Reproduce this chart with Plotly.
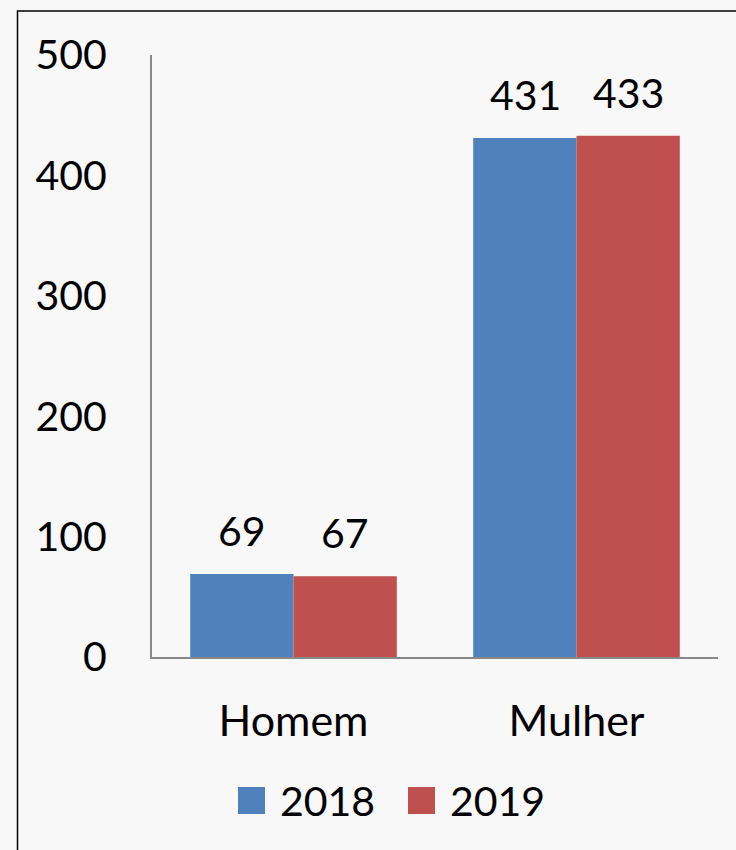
import plotly.graph_objects as go

# Dados
categorias = ["Homem", "Mulher"]
anos = ["2018", "2019"]
valores_2018 = [69, 431]
valores_2019 = [67, 433]
cores = ["#4F81BD", "#C0504D"]
y_ticks = [0, 100, 200, 300, 400, 500]

series = [valores_2018, valores_2019]
fonte = "Lato, Calibri, Carlito, sans-serif"

fig = go.Figure()
for ano, vals, cor in zip(anos, series, cores):
    fig.add_trace(go.Bar(x=categorias, y=vals, name=ano, marker=dict(color=cor, line=dict(width=0)),
                         showlegend=False))

# Rótulos de dados acima das barras
anotacoes = []
for i, vals in enumerate(series):
    for cat, v in zip(categorias, vals):
        anotacoes.append(dict(x=cat, y=v, text=str(v), showarrow=False, xref="x", yref="y",
                              xshift=(-51.5 if i == 0 else 51.5), yshift=17, yanchor="bottom",
                              font=dict(family=fonte, size=41, color="black")))

# Legenda manual (quadrados grandes)
L, W, T, H = 152, 566, 55, 602
def px(x):
    return (x - L) / W
def py(y):
    return (T + H - y) / H

formas = []
leg_x = [238, 408]
for ano, cor, x0 in zip(anos, cores, leg_x):
    formas.append(dict(type="rect", xref="paper", yref="paper", x0=px(x0), x1=px(x0 + 27),
                       y0=py(814), y1=py(787), fillcolor=cor, line=dict(width=0)))
    anotacoes.append(dict(x=px(x0 + 40), y=py(800), xref="paper", yref="paper", text=ano,
                          showarrow=False, xanchor="left", yanchor="middle",
                          font=dict(family=fonte, size=41, color="black")))

# Borda do gráfico
formas.append(dict(type="rect", xref="paper", yref="paper", x0=px(17.5), x1=px(760),
                   y0=py(870), y1=py(11), line=dict(color="black", width=1.5),
                   fillcolor="rgba(0,0,0,0)", layer="above"))

fig.update_layout(
    width=736, height=850,
    margin=dict(l=L, r=736 - L - W, t=T, b=850 - T - H),
    paper_bgcolor="#f8f8f8",
    plot_bgcolor="#f8f8f8",
    barmode="group",
    bargap=0.27,
    bargroupgap=0,
    showlegend=False,
    font=dict(family=fonte, size=41, color="black"),
    annotations=anotacoes,
    shapes=formas,
    xaxis=dict(
        showline=True, linecolor="#898989", linewidth=2,
        showgrid=False, ticks="", ticklabelstandoff=25,
        tickfont=dict(family=fonte, size=43, color="black"),
    ),
    yaxis=dict(
        range=[0, 500], tickvals=y_ticks,
        showline=True, linecolor="#898989", linewidth=2,
        showgrid=False, zeroline=False, ticks="", ticklabelstandoff=35,
        tickfont=dict(family=fonte, size=41, color="black"),
    ),
)

fig.write_html("out.html", config={"displayModeBar": False},
               post_script="document.body.style.margin='0';")
